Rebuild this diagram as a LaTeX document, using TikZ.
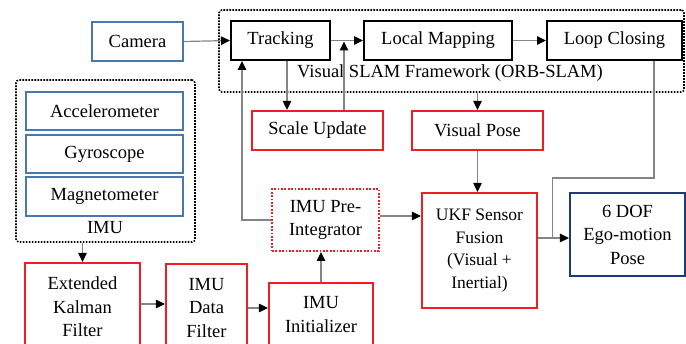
\documentclass[tikz,border=0pt]{standalone}
\usepackage{fontspec}
\setmainfont{Liberation Serif}
\usetikzlibrary{arrows.meta,calc}
\definecolor{bbox}{HTML}{4A78AE}
\definecolor{rbox}{HTML}{F01E24}
\definecolor{nbox}{HTML}{1F3A78}
\definecolor{conn}{HTML}{858585}
\begin{document}
\begin{tikzpicture}[x=1pt,y=-1pt,
  every node/.style={font=\fontsize{18.5}{23.5}\selectfont, align=center, inner sep=0pt},
  bluebox/.style={draw=bbox, line width=2pt, minimum width=#1},
  redbox/.style={draw=rbox, line width=2.2pt},
  blackbox/.style={draw=black, line width=2pt, minimum height=39pt},
  frame/.style={draw=black, line width=1.6pt, dash pattern=on 1.6pt off 1.4pt, rounded corners=3pt},
  arr/.style={draw=conn, line width=1.2pt, -{Triangle[length=9pt,width=8.5pt,color=black]}},
  ln/.style={draw=conn, line width=1.2pt}
]
\useasboundingbox (0,0) rectangle (686,344);
\clip (0,0) rectangle (686,344);
% frames
\node[frame, minimum width=465pt, minimum height=82pt] (slam) at (451.5,51) {};
\node at (450,73.5) {Visual SLAM Framework (ORB-SLAM)};
\node at (105,227.5) {IMU};
\node[frame, minimum width=179pt, minimum height=162pt] (imu) at (105.5,161) {};
% blue boxes
\node[bluebox=91pt, minimum height=39pt] (camera) at (137.5,41.5) {Camera};
\node[bluebox=157pt, minimum height=38pt] (acc) at (104.5,111) {Accelerometer};
\node[bluebox=157pt, minimum height=38pt] (gyro) at (104.5,154) {Gyroscope};
\node[bluebox=157pt, minimum height=39pt] (mag) at (104.5,196.5) {Magnetometer};
% SLAM boxes
\node[blackbox, minimum width=99pt] (track) at (280.5,40.5) {Tracking};
\node[blackbox, minimum width=148pt] (lmap) at (438,40.5) {Local Mapping};
\node[blackbox, minimum width=135pt] (loop) at (614.5,40.5) {Loop Closing};
% red boxes
\node[redbox, minimum width=131pt, minimum height=39pt] (scale) at (317.5,130.5) {Scale Update};
\node[redbox, minimum width=131pt, minimum height=39pt] (vpose) at (477.5,130.5) {Visual Pose};
\node[redbox, minimum width=115pt, minimum height=88pt] (ekf) at (82.5,307) {Extended\\Kalman\\Filter};
\node[redbox, minimum width=81pt, minimum height=88pt] (dfilt) at (206.5,308) {IMU\\Data\\Filter};
\node[redbox, minimum width=104pt, minimum height=63pt] (init) at (321,314.5) {IMU\\Initializer};
\node[draw=rbox, line width=2pt, dash pattern=on 1.8pt off 1.6pt, minimum width=107pt, minimum height=62pt] (pre) at (325.5,220) {IMU Pre-\\Integrator};
\node[redbox, minimum width=115pt, minimum height=115pt, font=\fontsize{17.5}{22.5}\selectfont] (ukf) at (479.5,250.5) {UKF Sensor\\Fusion\\(Visual +\\Inertial)};
\node[draw=nbox, line width=2.2pt, minimum width=115pt, minimum height=83pt] (dof) at (627.5,234.5) {6 DOF\\Ego-motion\\Pose};
% connectors
\draw[arr] (camera.east) -- (track.west);
\draw[arr] (track.east) -- (lmap.west);
\draw[arr] (lmap.east) -- (loop.west);
\draw[arr] ([xshift=6.5pt]track.south) -- ([xshift=6.5pt]track.south |- scale.north);
\draw[arr, shorten >=1pt] ([xshift=26.5pt]scale.north) -- ([xshift=26.5pt]scale.north |- track.east);
\draw[arr] (vpose.north |- slam.south) -- (vpose.north);
\draw[arr] (vpose.south) -- (vpose.south |- ukf.north);
\draw[arr] ([yshift=12.5pt]ukf.east) -- ([yshift=12.5pt]ukf.east -| dof.west);
\coordinate (j) at ($([yshift=12.5pt]ukf.east)+(14,0)$);
\draw[ln] ([xshift=39.5pt]loop.south) -- ++(0,117) -| (j);
\draw[arr] (pre.west) -| ([xshift=-38.5pt]track.south);
\draw[arr] ([yshift=4pt]pre.east) -- ([yshift=4pt]pre.east -| ukf.west);
\draw[arr] (ekf.north |- imu.south) -- (ekf.north);
\draw[arr] ([yshift=3pt]ekf.east) -- ([yshift=3pt]ekf.east -| dfilt.west);
\draw[arr] (dfilt.east) -- (dfilt.east -| init.west);
\draw[arr] (init.north) -- (init.north |- pre.south);
\end{tikzpicture}
\end{document}
